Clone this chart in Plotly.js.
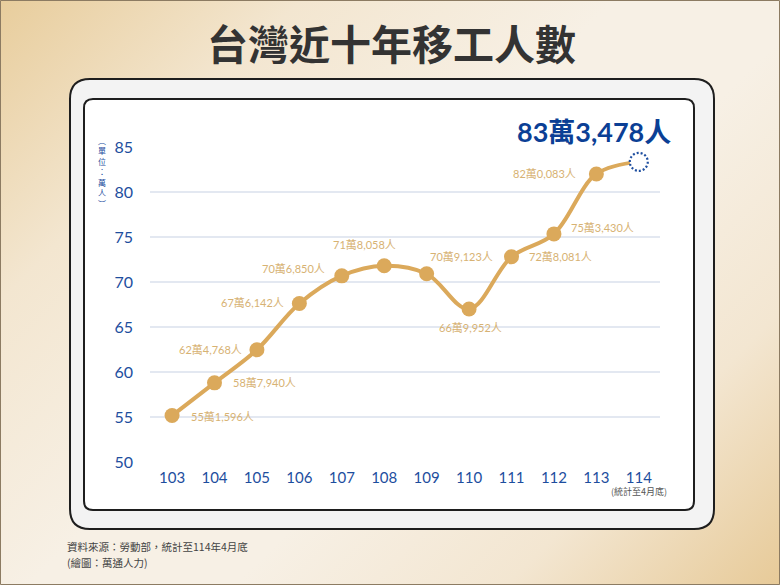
<!DOCTYPE html>
<html>
<head>
<meta charset="utf-8">
<script src="https://cdn.plot.ly/plotly-3.0.1.min.js"></script>
<style>
  html, body { margin: 0; padding: 0; }
  #chart {
    width: 780px; height: 585px;
    background: linear-gradient(135deg, #e8cd9c 0%, #f3e6d0 22%, #f7f0e5 45%, #f7f0e5 60%, #f3e6d1 80%, #e7ca98 100%);
  }
</style>
</head>
<body>
<div id="chart"></div>
<script>
// ---- data ----
const years = [103, 104, 105, 106, 107, 108, 109, 110, 111, 112, 113, 114];
const yearLabels = ['103', '104', '105', '106', '107', '108', '109', '110', '111', '112', '113', '114'];
const workers = [551596, 587940, 624768, 676142, 706850, 718058, 709123, 669952, 728081, 753430, 820083, 833478];
const yTicks = [50, 55, 60, 65, 70, 75, 80, 85];

const titleText = '台灣近十年移工人數';
const unitText = '︵單位：萬人︶';
const noteText = '(統計至4月底)';
const sourceLines = ['資料來源：勞動部，統計至114年4月底', '(繪圖：萬通人力)'];

// values in 萬
const values = workers.map(w => w / 10000);
function fmtLabel(w) {
  const wan = Math.floor(w / 10000);
  const rest = String(w % 10000).padStart(4, '0');
  return wan + '萬' + rest.slice(0, 1) + ',' + rest.slice(1) + '人';
}
const labels = workers.map(fmtLabel);

// ---- layout helpers (pixel -> paper) ----
const W = 780, H = 585;
const PL = 150, PR = 660, PT = 147, PB = 462;
const px = x => (x - PL) / (PR - PL);
const py = y => (PB - y) / (PB - PT);

function roundRect(x0, y0, x1, y1, r) {
  const rx = r / (PR - PL), ry = r / (PB - PT);
  const a = px(x0), b = px(x1), t = py(y0), u = py(y1);
  return 'M' + (a + rx) + ',' + t +
    ' L' + (b - rx) + ',' + t +
    ' Q' + b + ',' + t + ' ' + b + ',' + (t - ry) +
    ' L' + b + ',' + (u + ry) +
    ' Q' + b + ',' + u + ' ' + (b - rx) + ',' + u +
    ' L' + (a + rx) + ',' + u +
    ' Q' + a + ',' + u + ' ' + a + ',' + (u + ry) +
    ' L' + a + ',' + (t - ry) +
    ' Q' + a + ',' + t + ' ' + (a + rx) + ',' + t + ' Z';
}

const gold = '#dba95b';
const goldText = '#d7b273';
const blue = '#1d4e9e';
const numFont = 'Lato, "Noto Sans CJK TC", sans-serif';
const cjkFont = '"Noto Sans CJK TC", "Noto Sans", sans-serif';

// label placement styling (anchor, x/y pixel offsets) per point
const labelStyle = [
  ['left', 17, -1], ['left', 17, 0], ['right', -13, 0], ['right', -13, 1],
  ['right', -15, 7], ['center', -20, 21], ['left', 1, 17], ['center', 1, -18],
  ['left', 15, 0], ['left', 15, 6], ['right', -18, 0]
];

const annotations = [];
for (let i = 0; i < labelStyle.length; i++) {
  const s = labelStyle[i];
  annotations.push({
    x: years[i], y: values[i], xref: 'x', yref: 'y', text: labels[i], showarrow: false,
    xanchor: s[0], yanchor: 'middle', xshift: s[1], yshift: s[2],
    font: { family: numFont, size: 11, color: goldText }
  });
}
const last = years.length - 1;
annotations.push({
  x: years[last], y: values[last], xref: 'x', yref: 'y', text: '<b>' + labels[last] + '</b>', showarrow: false,
  xanchor: 'right', yanchor: 'middle', xshift: 34, yshift: 30,
  font: { family: numFont, size: 27, color: '#0b3f95' }
});
// title
annotations.push({
  x: px(391), y: py(42), xref: 'paper', yref: 'paper', text: '<b>' + titleText + '</b>', showarrow: false,
  xanchor: 'center', yanchor: 'middle', font: { family: cjkFont, size: 41, color: '#333333' }
});
// vertical unit text
const unitChars = unitText.split('');
unitChars.forEach((c, k) => {
  annotations.push({
    x: px(102), y: py(140 + k * 10.5), xref: 'paper', yref: 'paper', text: c, showarrow: false,
    xanchor: 'center', yanchor: 'middle', borderpad: 0,
    font: { family: cjkFont, size: 8, color: blue }
  });
});
// note under 114
annotations.push({
  x: years[last], y: py(491.5), xref: 'x', yref: 'paper', text: noteText, showarrow: false,
  xanchor: 'center', yanchor: 'middle', font: { family: cjkFont, size: 9, color: '#555555' }
});
// source lines
sourceLines.forEach((t, k) => {
  annotations.push({
    x: px(65), y: py(546 + k * 16.5), xref: 'paper', yref: 'paper', text: t, showarrow: false,
    xanchor: 'left', yanchor: 'middle', font: { family: cjkFont, size: 10.5, color: '#444444' }
  });
});

const shapes = [
  { type: 'rect', xref: 'paper', yref: 'paper', x0: px(0.5), x1: px(779.5), y0: py(0.5), y1: py(584.5),
    line: { color: '#8c7b62', width: 1 }, fillcolor: 'rgba(0,0,0,0)', layer: 'below' },
  { type: 'path', xref: 'paper', yref: 'paper', path: roundRect(70, 79, 714, 529, 20),
    line: { color: '#1e1e1e', width: 2 }, fillcolor: '#f3f3f3', layer: 'below' },
  { type: 'path', xref: 'paper', yref: 'paper', path: roundRect(84, 99, 694, 510, 9),
    line: { color: '#1e1e1e', width: 2 }, fillcolor: '#ffffff', layer: 'below' },
  { type: 'circle', xref: 'x', yref: 'y', xsizemode: 'pixel', ysizemode: 'pixel',
    xanchor: years[last], yanchor: values[last], x0: -9, x1: 9, y0: -9, y1: 9,
    line: { color: '#1f4fa0', width: 2.2, dash: '2px,2px' }, fillcolor: '#ffffff', layer: 'above' }
];

const trace = {
  x: years, y: values, type: 'scatter', mode: 'lines+markers',
  line: { color: gold, width: 4, shape: 'spline', smoothing: 1 },
  marker: { color: gold, opacity: 1, line: { width: 0 }, size: years.map((_, i) => i === last ? 0 : 15) },
  hoverinfo: 'skip', cliponaxis: false
};

const layout = {
  width: W, height: H, autosize: false,
  margin: { l: PL, r: W - PR, t: PT, b: H - PB, pad: 0 },
  paper_bgcolor: 'rgba(0,0,0,0)', plot_bgcolor: 'rgba(0,0,0,0)',
  showlegend: false,
  xaxis: {
    range: [102.48, 114.5], tickmode: 'array', tickvals: years, ticktext: yearLabels,
    showgrid: false, zeroline: false, showline: false, ticks: '',
    ticklabelstandoff: 5,
    tickfont: { family: numFont, size: 15, color: blue }, fixedrange: true
  },
  yaxis: {
    range: [50, 85], tickmode: 'array', tickvals: yTicks, ticktext: yTicks.map(String),
    showgrid: true, gridcolor: '#e3e8f1', gridwidth: 1.5, zeroline: false, showline: false, ticks: '',
    ticklabelstandoff: 16,
    tickfont: { family: numFont, size: 16, color: blue }, fixedrange: true
  },
  shapes: shapes,
  annotations: annotations
};

Plotly.newPlot('chart', [trace], layout, { displayModeBar: false, staticPlot: true });
</script>
</body>
</html>
